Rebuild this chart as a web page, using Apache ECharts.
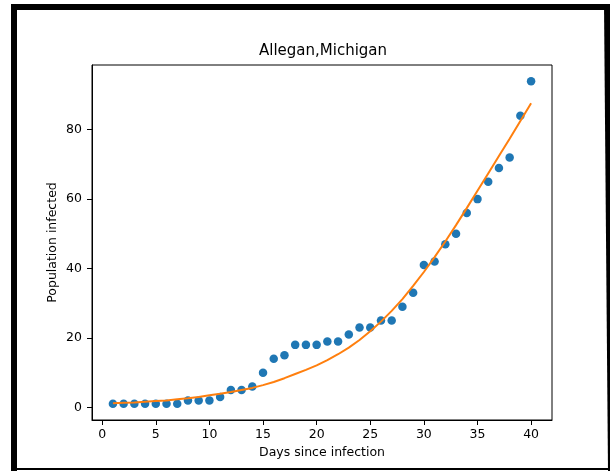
<!DOCTYPE html>
<html>
<head>
<meta charset="utf-8">
<script src="https://cdn.jsdelivr.net/npm/echarts@6/dist/echarts.min.js"></script>
<style>
html,body{margin:0;padding:0;background:#fff;}
#c{width:610px;height:471px;}
</style>
</head>
<body>
<div id="c"></div>
<script>
const titleText = 'Allegan,Michigan';
const xName = 'Days since infection';
const yName = 'Population infected';
const days = [1,2,3,4,5,6,7,8,9,10,11,12,13,14,15,16,17,18,19,20,21,22,23,24,25,26,27,28,29,30,31,32,33,34,35,36,37,38,39,40];
const infected = [1,1,1,1,1,1,1,2,2,2,3,5,5,6,10,14,15,18,18,18,19,19,21,23,23,25,25,29,33,41,42,47,50,56,60,65,69,72,84,94];
const fitted = [1.2,1.3,1.4,1.6,1.8,2.0,2.3,2.6,3.0,3.5,3.9,4.4,5.0,5.6,6.4,7.3,8.4,9.6,10.8,12.1,13.6,15.3,17.2,19.4,21.9,24.7,27.8,31.2,35.0,39.0,43.3,47.8,52.5,57.4,62.4,67.4,72.4,77.4,82.5,87.6];
const xTicks = [0,5,10,15,20,25,30,35,40];
const yTicks = [0,20,40,60,80];

const font = 'DejaVu Sans';
const chart = echarts.init(document.getElementById('c'), null, {renderer:'canvas'});
chart.setOption({
  backgroundColor:'#fff',
  animation:false,
  title:{
    text:titleText, left:318, top:39, textAlign:'center',
    textStyle:{fontFamily:font, fontSize:15, fontWeight:'normal', color:'#000'}
  },
  grid:{left:92, right:58, top:65, bottom:51, show:true, borderColor:'#000', borderWidth:1, containLabel:false, outerBoundsMode:'none'},
  xAxis:{
    type:'value', min:-0.95, max:41.95,
    name:xName, nameLocation:'middle', nameGap:26, nameMoveOverlap:false,
    nameTextStyle:{fontFamily:font, fontSize:12.5, color:'#000'},
    axisLine:{show:true, onZero:false, lineStyle:{color:'#000', width:1}},
    axisTick:{show:true, customValues:xTicks, length:5, lineStyle:{color:'#000'}},
    axisLabel:{customValues:xTicks, margin:8, fontFamily:font, fontSize:12.5, color:'#000'},
    splitLine:{show:false}
  },
  yAxis:{
    type:'value', min:-3.65, max:98.65,
    name:yName, nameLocation:'middle', nameGap:33, nameRotate:90, nameMoveOverlap:false,
    nameTextStyle:{fontFamily:font, fontSize:12.5, color:'#000'},
    axisLine:{show:true, onZero:false, lineStyle:{color:'#000', width:1}},
    axisTick:{show:true, customValues:yTicks, length:5, lineStyle:{color:'#000'}},
    axisLabel:{customValues:yTicks, margin:10, fontFamily:font, fontSize:12.5, color:'#000'},
    splitLine:{show:false}
  },
  series:[
    {type:'scatter', data:days.map((d,i)=>[d, infected[i]]), symbolSize:8.5,
     itemStyle:{color:'#1f77b4', opacity:1}, z:2},
    {type:'line', data:days.map((d,i)=>[d, fitted[i]]), showSymbol:false, symbol:'none', smooth:false,
     lineStyle:{color:'#ff7f0e', width:2}, z:3}
  ],
  graphic:[
    {type:'rect', shape:{x:11, y:4, width:599, height:6}, style:{fill:'#000'}, z:100},
    {type:'rect', shape:{x:11, y:4, width:6, height:467}, style:{fill:'#000'}, z:100},
    {type:'polygon', shape:{points:[[604,4],[610,4],[610,471],[608,471]]}, style:{fill:'#000'}, z:100},
    {type:'rect', shape:{x:11, y:468, width:599, height:2}, style:{fill:'#000'}, z:100}
  ]
});
</script>
</body>
</html>
